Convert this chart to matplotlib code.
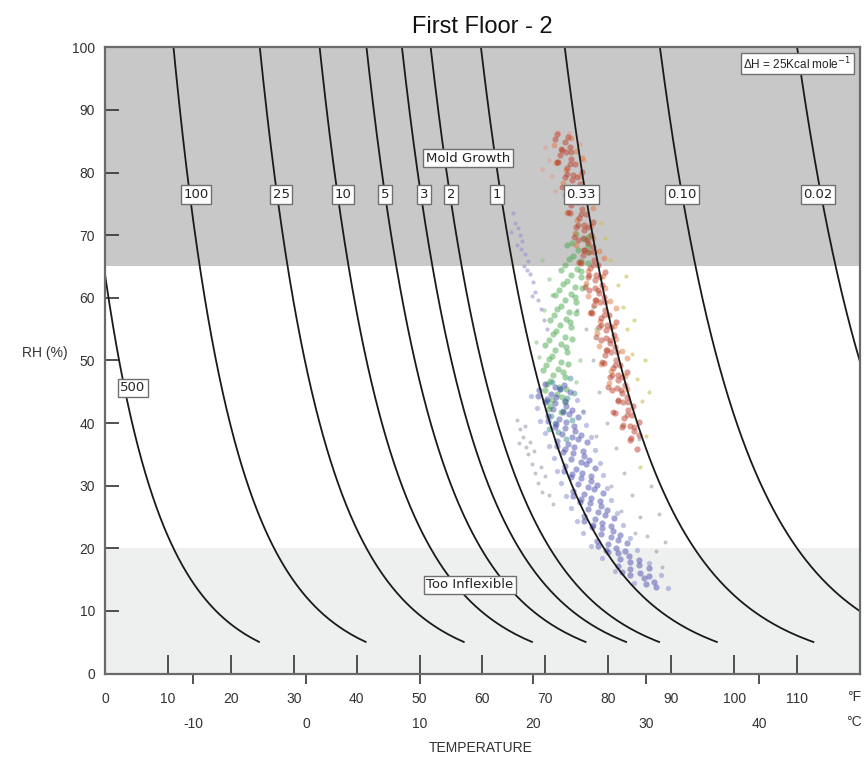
import numpy as np
import matplotlib
matplotlib.use("Agg")
import matplotlib.pyplot as plt

plt.rcParams['font.family'] = ['Liberation Sans', 'DejaVu Sans']

# ---------------- data ----------------
TITLE = "First Floor - 2"
LIFETIMES = [500, 100, 25, 10, 5, 3, 2, 1, 0.33, 0.10, 0.02]
LIFETIME_LABELS = ["500", "100", "25", "10", "5", "3", "2", "1", "0.33", "0.10", "0.02"]
LABEL_T_F = [4.45, 14.5, 28.0, 37.8, 44.5, 50.7, 55.0, 62.3, 75.7, 91.7, 113.3]
LABEL_RH = [45.6, 76.5, 76.5, 76.5, 76.5, 76.5, 76.5, 76.5, 76.5, 76.5, 76.5]
EA_OVER_R = 12800.0      # K  (DeltaH ~ 25 kcal/mol)
REF_T_C = 20.0
REF_RH = 50.0
RH_MIN_CURVE = 5.0
MOLD_RH = 65.0
INFLEX_RH = 20.0
F_TICKS = [0, 10, 20, 30, 40, 50, 60, 70, 80, 90, 100, 110]
F_TICK_LABELS = ["0", "10", "20", "30", "40", "50", "60", "70", "80", "90", "100", "110"]
C_TICKS = [-10, 0, 10, 20, 30, 40]
RH_TICKS = [0, 10, 20, 30, 40, 50, 60, 70, 80, 90, 100]

RED_PTS = [(71.85, 86.2), (73.55, 85.7), (71.6, 85.3), (73.1, 84.8), (72.6, 83.6), (73.9, 84.1),
           (73.3, 83.3), (72.3, 82.8), (72.05, 81.6), (74.05, 82.1), (74.7, 81.3), (73.5, 80.8),
           (74.4, 79.6), (75.8, 80.1), (73.1, 79.3), (74.3, 78.8), (74.25, 77.6), (75.45, 78.1),
           (73.4, 77.3), (74.9, 76.8), (74.4, 75.6), (75.7, 76.1), (75.1, 75.3), (74.1, 74.8),
           (73.85, 73.6), (75.85, 74.1), (76.5, 73.3), (75.3, 72.8), (76.2, 71.6), (77.6, 72.1),
           (74.9, 71.3), (76.1, 70.8), (76.05, 69.6), (77.25, 70.1), (75.2, 69.3), (76.7, 68.8),
           (76.2, 67.6), (77.5, 68.1), (76.9, 67.3), (75.9, 66.8), (75.65, 65.6), (77.65, 66.1),
           (78.3, 65.3), (77.1, 64.8), (78.0, 63.6), (79.4, 64.1), (76.7, 63.3), (77.9, 62.8),
           (77.85, 61.6), (79.05, 62.1), (77.0, 61.3), (78.5, 60.8), (78.0, 59.6), (79.3, 60.1),
           (78.7, 59.3), (77.7, 58.8), (77.45, 57.6), (79.45, 58.1), (80.1, 57.3), (78.9, 56.8),
           (79.8, 55.6), (81.2, 56.1), (78.5, 55.3), (79.7, 54.8), (79.65, 53.6), (80.85, 54.1),
           (78.8, 53.3), (80.3, 52.8), (79.8, 51.6), (81.1, 52.1), (80.5, 51.3), (79.5, 50.8),
           (79.25, 49.6), (81.25, 50.1), (81.9, 49.3), (80.7, 48.8), (81.6, 47.6), (83.0, 48.1),
           (80.3, 47.3), (81.5, 46.8), (81.45, 45.6), (82.65, 46.1), (80.6, 45.3), (82.1, 44.8),
           (81.6, 43.6), (82.9, 44.1), (82.3, 43.3), (83.9, 42.8), (81.05, 41.6), (83.05, 42.1),
           (83.7, 41.3), (82.5, 40.8), (83.4, 39.6), (84.8, 40.1), (82.1, 39.3), (84.0, 38.8),
           (83.65, 37.6), (84.95, 38.1), (83.4, 37.3), (84.5, 35.8)]

RED_EXTRA_PTS = [(72.5, 83.7), (74.1, 83.3), (71.8, 81.7), (73.9, 81.3), (73.4, 79.7), (75.0, 79.3),
                 (72.7, 77.7), (74.8, 77.3), (74.3, 75.7), (75.9, 75.3), (73.6, 73.7), (75.7, 73.3),
                 (75.2, 71.7), (76.8, 71.3), (74.5, 69.7), (76.6, 69.3), (76.1, 67.7), (77.7, 67.3),
                 (75.4, 65.7), (77.5, 65.3), (77.0, 63.7), (78.6, 63.3), (76.3, 61.7), (78.4, 61.3),
                 (77.9, 59.7), (79.5, 59.3), (77.2, 57.7), (79.3, 57.3), (78.8, 55.7), (80.4, 55.3),
                 (78.1, 53.7), (80.2, 53.3), (79.7, 51.7), (81.3, 51.3), (79.0, 49.7), (81.1, 49.3),
                 (80.6, 47.7), (82.2, 47.3), (79.9, 45.7), (82.0, 45.3), (81.5, 43.7), (83.1, 43.3),
                 (80.8, 41.7), (82.9, 41.3), (82.4, 39.7), (84.0, 39.3)]

ORANGE_PTS = [(74.0, 85.5), (71.3, 84.4), (74.9, 83.5), (75.75, 82.35), (71.7, 81.5), (73.2, 80.35),
              (75.5, 79.5), (72.85, 78.35), (75.8, 77.5), (73.1, 76.35), (76.7, 75.5), (77.55, 74.35),
              (73.5, 73.5), (75.0, 72.35), (77.3, 71.5), (74.65, 70.35), (77.6, 69.5), (74.9, 68.35),
              (78.5, 67.5), (79.35, 66.35), (75.3, 65.5), (76.8, 64.35), (79.1, 63.5), (76.45, 62.35),
              (79.4, 61.5), (76.7, 60.35), (80.3, 59.5), (81.15, 58.35), (77.1, 57.5), (78.6, 56.35),
              (80.9, 55.5), (78.25, 54.35), (81.2, 53.5), (78.5, 52.35), (82.1, 51.5), (82.95, 50.35),
              (78.9, 49.5), (80.4, 48.35), (82.7, 47.5), (80.05, 46.35), (83.0, 45.5)]

GREEN_PTS = [(74.8, 70.2), (76.7, 69.7), (76.1, 69.4), (74.2, 68.8), (75.1, 67.7), (76.7, 68.2), (73.5, 68.4),
             (76.7, 67.3), (74.4, 66.7), (73.8, 66.2), (75.7, 65.8), (76.8, 65.5), (75.0, 64.6), (73.1, 65.3),
             (74.1, 63.7), (75.7, 64.2), (72.5, 64.4), (75.7, 63.3), (73.4, 62.7), (72.8, 62.2), (74.7, 61.8),
             (75.8, 61.5), (74.1, 60.6), (72.2, 61.3), (73.1, 59.7), (74.7, 60.2), (71.5, 60.4), (74.8, 59.3),
             (72.5, 58.7), (71.9, 58.2), (73.8, 57.8), (74.9, 57.5), (73.2, 56.6), (71.3, 57.3), (72.3, 55.7),
             (73.9, 56.2), (70.7, 56.4), (74.0, 55.3), (71.7, 54.7), (71.15, 54.2), (73.05, 53.8), (74.15, 53.5),
             (72.5, 52.6), (70.6, 53.3), (71.6, 51.7), (73.2, 52.2), (70.0, 52.4), (73.4, 51.3), (71.1, 50.7),
             (70.6, 50.2), (72.5, 49.8), (73.6, 49.5), (72.0, 48.6), (70.1, 49.3), (71.2, 47.7), (72.8, 48.2),
             (69.6, 48.4), (73.05, 47.3), (70.75, 46.7), (70.3, 46.2), (72.2, 45.8), (73.3, 45.5), (71.8, 44.6),
             (69.9, 45.3), (71.1, 43.7), (72.7, 44.2), (73.1, 43.3), (70.8, 42.7), (70.5, 42.2), (72.4, 41.8)]

TEAL_PTS = [(71.0, 46.5), (72.3, 45.5), (73.5, 44.0), (70.2, 43.5), (72.8, 42.0), (74.2, 40.5), (71.6, 40.0),
            (73.9, 47.2), (74.6, 44.8), (70.9, 41.2), (72.0, 38.5), (73.2, 37.4), (70.5, 39.0)]

BLUE_PTS = [(70.0, 46.3), (71.6, 45.8), (73.0, 46.1), (69.05, 45.2), (70.85, 44.7), (72.35, 45.4), (73.85, 44.9),
            (68.9, 44.3), (70.2, 43.8), (71.7, 44.1), (73.1, 43.6), (71.55, 43.2), (73.25, 42.7), (69.95, 43.4),
            (71.2, 42.3), (72.8, 41.8), (74.2, 42.1), (70.4, 41.2), (72.2, 40.7), (73.7, 41.4), (75.2, 40.9),
            (70.4, 40.3), (71.7, 39.8), (73.2, 40.1), (74.6, 39.6), (73.05, 39.2), (74.75, 38.7), (71.45, 39.4),
            (72.7, 38.3), (74.3, 37.8), (75.7, 38.1), (71.85, 37.2), (73.65, 36.7), (75.15, 37.4), (76.65, 36.9),
            (71.8, 36.3), (73.1, 35.8), (74.6, 36.1), (76.0, 35.6), (74.4, 35.2), (76.1, 34.7), (72.8, 35.4),
            (74.0, 34.3), (75.6, 33.8), (77.0, 34.1), (73.1, 33.2), (74.9, 32.7), (76.4, 33.4), (77.9, 32.9),
            (73.0, 32.3), (74.3, 31.8), (75.8, 32.1), (77.2, 31.6), (75.6, 31.2), (77.3, 30.7), (74.0, 31.4),
            (75.2, 30.3), (76.8, 29.8), (78.2, 30.1), (74.4, 29.2), (76.2, 28.7), (77.7, 29.4), (79.2, 28.9),
            (74.4, 28.3), (75.7, 27.8), (77.2, 28.1), (78.6, 27.6), (77.1, 27.2), (78.8, 26.7), (75.5, 27.4),
            (76.8, 26.3), (78.4, 25.8), (79.8, 26.1), (76.1, 25.2), (77.9, 24.7), (79.4, 25.4), (80.9, 24.9),
            (76.2, 24.3), (77.5, 23.8), (79.0, 24.1), (80.4, 23.6), (79.0, 23.2), (80.7, 22.7), (77.4, 23.4),
            (78.8, 22.3), (80.4, 21.8), (81.8, 22.1), (78.2, 21.2), (80.0, 20.7), (81.5, 21.4), (83.0, 20.9),
            (78.4, 20.3), (79.7, 19.8), (81.2, 20.1), (82.6, 19.6), (81.6, 19.2), (83.3, 18.7), (80.0, 19.4),
            (81.8, 18.3), (83.4, 17.8), (84.8, 18.1), (81.6, 17.2), (83.4, 16.7), (84.9, 17.4), (86.4, 16.9),
            (82.2, 16.3), (83.5, 15.8), (85.0, 16.1), (86.4, 15.6), (85.6, 15.2), (87.3, 14.7), (86.0, 14.3),
            (87.6, 13.8)]

LBLUE_PTS = [(67.7, 44.4), (75.0, 43.7), (68.6, 42.4), (75.9, 41.7), (69.2, 40.4), (76.5, 39.7),
             (70.0, 38.4), (77.3, 37.7), (70.6, 36.4), (77.9, 35.7), (71.3, 34.4), (78.6, 33.7),
             (71.8, 32.4), (79.1, 31.7), (72.5, 30.4), (79.8, 29.7), (73.2, 28.4), (80.5, 27.7),
             (74.0, 26.4), (81.4, 25.7), (75.0, 24.4), (82.3, 23.7), (76.0, 22.4), (83.4, 21.7),
             (77.2, 20.4), (84.5, 19.7), (79.0, 18.4), (86.4, 17.7), (81.0, 16.4), (88.3, 15.7),
             (84.0, 14.4), (89.5, 13.7)]

PURPLE_PTS = [(64.8, 73.5), (65.2, 72.0), (65.6, 71.2), (65.9, 70.0), (66.3, 69.1), (66.1, 67.8), (66.8, 67.0),
              (67.2, 65.9), (67.0, 64.5), (67.6, 63.8), (68.1, 62.5), (68.4, 61.0), (68.9, 59.6), (69.3, 58.2),
              (65.5, 68.5), (66.6, 65.0), (67.8, 60.3), (69.8, 56.5), (70.2, 55.0), (64.5, 70.5)]

GRAY_PTS = [(65.5, 40.5), (66.0, 39.0), (66.4, 37.8), (66.9, 36.2), (67.3, 35.0), (67.8, 33.5), (68.4, 32.0),
            (68.9, 30.5), (69.5, 29.0), (66.8, 39.5), (67.6, 37.0), (68.2, 35.5), (69.3, 33.0), (70.0, 31.5),
            (70.6, 28.5), (65.8, 36.8), (71.2, 27.0), (78.5, 45.0), (79.8, 40.0), (81.2, 36.0), (82.5, 32.0),
            (83.8, 28.5), (85.0, 25.0), (86.2, 22.0), (87.5, 19.5), (88.5, 17.0), (80.5, 30.0), (82.0, 26.0),
            (84.2, 22.5), (77.5, 50.0), (76.5, 55.0), (75.0, 58.0), (84.8, 37.5), (86.8, 30.0), (88.0, 25.5),
            (89.0, 21.0), (76.0, 42.0), (78.0, 38.0)]

YELLOW_PTS = [(81.5, 62.0), (82.3, 58.5), (83.0, 55.0), (83.8, 51.0), (84.6, 47.0), (85.3, 43.5), (80.2, 66.0),
              (79.5, 69.5), (84.0, 56.5), (85.8, 50.0), (86.5, 45.0), (82.8, 63.5), (78.8, 72.0), (86.0, 38.0),
              (85.0, 33.0)]

PINK_PTS = [(70.5, 82.0), (71.0, 79.5), (70.0, 84.0), (72.0, 86.5), (73.8, 86.3), (75.5, 84.5), (76.2, 82.0),
            (71.5, 77.0), (69.5, 80.5)]

LGREEN_PTS = [(69.5, 66.0), (70.5, 63.0), (71.0, 60.5), (69.8, 58.0), (76.5, 62.0), (77.5, 58.5), (78.0, 55.0),
              (75.5, 50.0), (74.8, 46.5), (68.5, 53.0), (69.0, 50.5)]

# (points, colour, alpha, marker area)
SCATTER_GROUPS = [
    (GRAY_PTS, '#8a8a9c', 0.5, 8),
    (YELLOW_PTS, '#c9c05a', 0.6, 9),
    (LGREEN_PTS, '#8fca8f', 0.6, 10),
    (PURPLE_PTS, '#9d92d2', 0.6, 9),
    (LBLUE_PTS, '#8088cc', 0.5, 14),
    (GREEN_PTS, '#4aa84e', 0.5, 20),
    (TEAL_PTS, '#3a8f8a', 0.5, 18),
    (BLUE_PTS, '#4b4fae', 0.5, 20),
    (PINK_PTS, '#e2a098', 0.6, 12),
    (ORANGE_PTS, '#e0773f', 0.5, 18),
    (RED_PTS, '#bf3f2c', 0.5, 20),
    (RED_EXTRA_PTS, '#b5452f', 0.5, 18),
]

# ---------------- helpers ----------------
def c_to_f(c):
    return np.asarray(c) * 9.0 / 5.0 + 32.0

def f_to_c(f):
    return (np.asarray(f) - 32.0) * 5.0 / 9.0

def isoperm_temp_f(life, rh):
    t0 = REF_T_C + 273.15
    inv_t = 1.0 / t0 + (np.log(life) + np.log(np.asarray(rh) / REF_RH)) / EA_OVER_R
    return c_to_f(1.0 / inv_t - 273.15)

# ---------------- figure ----------------
fig = plt.figure(figsize=(8.67, 7.62), dpi=100)
ax = fig.add_axes([0.121, 0.116, 0.871, 0.822])
ax.set_xlim(0, 120)
ax.set_ylim(0, 100)

ax.axhspan(MOLD_RH, 100, color='#c8c8c8', zorder=0, lw=0)
ax.axhspan(0, INFLEX_RH, color='#eeefef', zorder=0, lw=0)

for pts, col, a, size in SCATTER_GROUPS:
    xs = [p[0] for p in pts]
    ys = [p[1] for p in pts]
    ax.scatter(xs, ys, s=size, color=col, alpha=a, linewidths=0, zorder=2)

rh_curve = np.linspace(RH_MIN_CURVE, 100, 300)
box = dict(boxstyle='square,pad=0.2', fc='white', ec='#6f6f6f', lw=1.0)
lab_font = ['DejaVu Sans']
for life, lab, lt, lrh in zip(LIFETIMES, LIFETIME_LABELS, LABEL_T_F, LABEL_RH):
    tf = isoperm_temp_f(life, rh_curve)
    ax.plot(tf, rh_curve, color='#1a1a1a', lw=1.3, zorder=3, solid_capstyle='butt')
    ax.text(lt, lrh, lab, ha='center', va='center', family=lab_font,
            fontsize=9.5, color='#222222', bbox=box, zorder=5)

ax.text(57.7, 82.3, "Mold Growth", ha='center', va='center', fontsize=9.5, family=lab_font,
        color='#222222', bbox=box, zorder=5)
ax.text(58.0, 14.2, "Too Inflexible", ha='center', va='center', fontsize=9.5, family=lab_font,
        color='#222222', bbox=box, zorder=5)
ax.text(118.6, 97.4, "ΔH = 25Kcal mole$^{-1}$", ha='right', va='center', fontsize=8.5,
        color='#222222', bbox=box, zorder=5)

# spines
for s in ['top', 'right', 'left', 'bottom']:
    ax.spines[s].set_color('#6a6a6a')
    ax.spines[s].set_linewidth(1.6)
    ax.spines[s].set_zorder(6)

# y axis
ax.set_yticks(RH_TICKS)
ax.set_yticklabels([str(v) for v in RH_TICKS])
ax.tick_params(axis='y', direction='in', length=10, width=1.2, color='#333333',
               labelsize=10, pad=7, labelcolor='#333333')
ax.set_ylabel("RH (%)", rotation=0, fontsize=10, color='#333333')
ax.yaxis.set_label_coords(-0.080, 0.5)

# x axis (Fahrenheit)
ax.set_xticks(F_TICKS)
ax.set_xticklabels(F_TICK_LABELS)
ax.tick_params(axis='x', direction='in', length=14, width=1.2, color='#333333',
               labelsize=10, pad=13, labelcolor='#333333')

# secondary x axis (Celsius)
sec = ax.secondary_xaxis('bottom', functions=(f_to_c, c_to_f))
sec.set_xticks(C_TICKS)
sec.set_xticklabels([str(v) for v in C_TICKS])
sec.tick_params(axis='x', direction='out', length=7, width=1.2, color='#333333',
                labelsize=10, pad=24, labelcolor='#333333')
sec.spines['bottom'].set_visible(False)

ax.annotate("°F", xy=(119.1, 0), xycoords=('data', 'axes fraction'),
            xytext=(0, -17), textcoords='offset points', ha='center', va='center',
            fontsize=10, color='#333333')
ax.annotate("°C", xy=(119.0, 0), xycoords=('data', 'axes fraction'),
            xytext=(0, -35), textcoords='offset points', ha='center', va='center',
            fontsize=10, color='#333333')

fig.text(0.555, 1 - 748 / 762, "TEMPERATURE", ha='center', va='center', fontsize=10, color='#333333')
ax.set_title(TITLE, fontsize=17, pad=10, color='#111111')

fig.savefig("out.png", dpi=100)
